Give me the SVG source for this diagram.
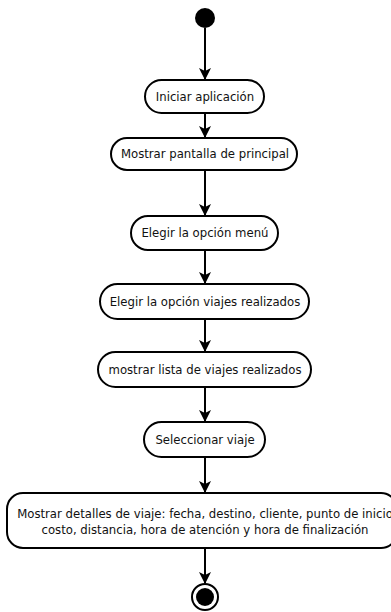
<svg xmlns="http://www.w3.org/2000/svg" width="391" height="612" viewBox="0 0 391 612">
  <style>
    .act { fill: #ffffff; stroke: #000000; stroke-width: 2; }
    .lbl { font-family: "DejaVu Sans", "Liberation Sans", sans-serif; font-size: 11.7px; fill: #111111; text-anchor: middle; dominant-baseline: central; }
    .flow { fill: none; stroke: #000000; stroke-width: 2; marker-end: url(#arrow); }
  </style>
  <defs>
    <marker id="arrow" viewBox="0 0 12 12" refX="11" refY="6" markerWidth="12" markerHeight="12" markerUnits="userSpaceOnUse" orient="auto">
      <path d="M0,0 L12,6 L0,12 L3,6 Z" fill="#000000"/>
    </marker>
  </defs>

  <!-- connectors -->
  <g id="connectors">
    <line class="flow" x1="205" y1="28" x2="205" y2="79"/>
    <line class="flow" x1="205" y1="113" x2="205" y2="137"/>
    <line class="flow" x1="205" y1="170" x2="205" y2="215"/>
    <line class="flow" x1="205" y1="250" x2="205" y2="283"/>
    <line class="flow" x1="205" y1="319" x2="205" y2="351"/>
    <line class="flow" x1="205" y1="387" x2="205" y2="421"/>
    <line class="flow" x1="205" y1="457" x2="205" y2="492"/>
    <line class="flow" x1="205" y1="548" x2="205" y2="583"/>
  </g>

  <!-- initial node -->
  <g id="start">
    <circle cx="205" cy="18" r="10" fill="#000000"/>
  </g>

  <g id="n1">
    <rect class="act" x="145" y="80" width="119" height="33" rx="16.5"/>
    <text class="lbl" x="205" y="96.5">Iniciar aplicación</text>
  </g>

  <g id="n2">
    <rect class="act" x="111" y="138" width="186" height="32" rx="16"/>
    <text class="lbl" x="205" y="154">Mostrar pantalla de principal</text>
  </g>

  <g id="n3">
    <rect class="act" x="131" y="216" width="147" height="34" rx="17"/>
    <text class="lbl" x="205" y="233">Elegir la opción menú</text>
  </g>

  <g id="n4">
    <rect class="act" x="100" y="284" width="209" height="35" rx="17.5"/>
    <text class="lbl" x="205" y="301.5">Elegir la opción viajes realizados</text>
  </g>

  <g id="n5">
    <rect class="act" x="98" y="352" width="213" height="35" rx="17.5"/>
    <text class="lbl" x="205" y="369.5">mostrar lista de viajes realizados</text>
  </g>

  <g id="n6">
    <rect class="act" x="144" y="422" width="121" height="35" rx="17.5"/>
    <text class="lbl" x="205" y="439.5">Seleccionar viaje</text>
  </g>

  <g id="n7">
    <rect class="act" x="7" y="493" width="390" height="55" rx="16"/>
    <text class="lbl" x="205" y="514">Mostrar detalles de viaje: fecha, destino, cliente, punto de inicio</text>
    <text class="lbl" x="205" y="530">costo, distancia, hora de atención y hora de finalización</text>
  </g>

  <!-- final node -->
  <g id="end">
    <circle cx="205" cy="597" r="13" fill="#ffffff" stroke="#000000" stroke-width="2"/>
    <circle cx="205" cy="597" r="9" fill="#000000"/>
  </g>
</svg>
